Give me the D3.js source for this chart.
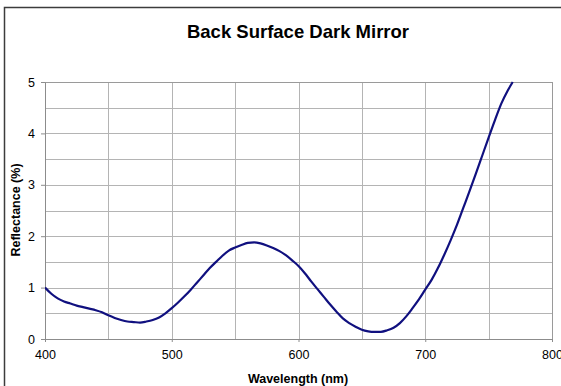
<!DOCTYPE html>
<meta charset="utf-8">
<style>
  body { margin: 0; background: #fff; }
  text { font-family: "Liberation Sans", Arial, sans-serif; fill: #000; }
  .grid line { stroke: #b4b4b4; stroke-width: 1px; }
  .axis path, .axis line { stroke: #8c8c8c; }
  .line { fill: none; stroke: #10107f; stroke-width: 2.2px; }
</style>
<body>
<script src="https://cdn.jsdelivr.net/npm/d3@7"></script>
<script>

  // wavelength (nm) vs reflectance (%)
  var wavelength = [400, 405, 410, 415, 420, 425, 430, 435, 440, 445, 450, 455, 460, 465, 470, 475,
    480, 485, 490, 495, 500, 505, 510, 515, 520, 525, 530, 535, 540, 545, 550, 555, 560, 565,
    570, 575, 580, 585, 590, 595, 600, 605, 610, 615, 620, 625, 630, 635, 640, 645, 650, 655,
    660, 665, 670, 675, 680, 685, 690, 695, 700, 705, 710, 715, 720, 725, 730, 735, 740, 745,
    750, 755, 760, 765, 769];
  var reflectance = [1.00, 0.88, 0.79, 0.73, 0.69, 0.65, 0.62, 0.59, 0.56, 0.52, 0.46, 0.41, 0.37, 0.34, 0.33, 0.32,
    0.34, 0.37, 0.42, 0.50, 0.60, 0.71, 0.83, 0.96, 1.10, 1.24, 1.38, 1.50, 1.62, 1.72, 1.78, 1.83, 1.87, 1.88,
    1.86, 1.82, 1.77, 1.71, 1.63, 1.53, 1.42, 1.28, 1.12, 0.97, 0.82, 0.67, 0.53, 0.40, 0.31, 0.24, 0.18, 0.15,
    0.14, 0.14, 0.17, 0.22, 0.31, 0.44, 0.60, 0.77, 0.96, 1.15, 1.38, 1.64, 1.92, 2.22, 2.55, 2.88, 3.22, 3.57,
    3.92, 4.26, 4.58, 4.83, 5.00];
  var xTicks = [400, 500, 600, 700, 800];
  var yTicks = [0, 1, 2, 3, 4, 5];

  var data = wavelength.map((w, i) => ({ w: w, r: reflectance[i] }));

  var W = 561, H = 386;
  var margin = { top: 82, right: 9, bottom: 47, left: 45 },
    width = W - margin.left - margin.right,
    height = H - margin.top - margin.bottom;

  var svg = d3.select("body").append("svg")
    .attr("width", W)
    .attr("height", H);

  // outer chart border
  svg.append("rect")
    .attr("x", 4.5).attr("y", 7.5)
    .attr("width", W).attr("height", H)
    .attr("fill", "none").attr("stroke", "#3c3c3c").attr("stroke-width", 1.5);

  svg.append("text")
    .attr("x", 298).attr("y", 38)
    .attr("text-anchor", "middle")
    .style("font-size", "18.5px").style("font-weight", "bold")
    .text("Back Surface Dark Mirror");

  var g = svg.append("g")
    .attr("transform", "translate(" + margin.left + "," + margin.top + ")");

  var x = d3.scaleLinear().domain([400, 800]).range([0, width]);
  var y = d3.scaleLinear().domain([0, 5]).range([height, 0]);

  // grid
  g.append("g").attr("class", "grid")
    .selectAll("line").data(d3.range(450, 800, 50)).enter().append("line")
    .attr("x1", d => Math.round(x(d)) + 0.5).attr("x2", d => Math.round(x(d)) + 0.5)
    .attr("y1", 0).attr("y2", height);
  g.append("g").attr("class", "grid")
    .selectAll("line").data(d3.range(0.5, 5, 0.5)).enter().append("line")
    .attr("x1", 0).attr("x2", width)
    .attr("y1", d => Math.round(y(d)) + 0.5).attr("y2", d => Math.round(y(d)) + 0.5);

  // plot frame
  g.append("rect")
    .attr("x", 0.5).attr("y", 0.5)
    .attr("width", width).attr("height", height)
    .attr("fill", "none").attr("stroke", "#9a9a9a");

  g.append("g").attr("class", "axis")
    .attr("transform", "translate(0," + height + ")")
    .call(d3.axisBottom(x).tickValues(xTicks).tickFormat(d3.format("d")).tickSize(3).tickSizeOuter(0).tickPadding(8))
    .selectAll("text").style("font-size", "12.5px");

  g.append("g").attr("class", "axis")
    .call(d3.axisLeft(y).tickValues(yTicks).tickFormat(d3.format("d")).tickSize(4).tickSizeOuter(0).tickPadding(6))
    .selectAll("text").style("font-size", "12.5px");

  g.selectAll(".axis text").attr("font-family", null).style("fill", "#000");

  g.append("clipPath").attr("id", "clip")
    .append("rect").attr("width", width).attr("height", height + 2).attr("y", -1);

  var valueline = d3.line()
    .x(d => x(d.w))
    .y(d => y(d.r))
    .curve(d3.curveMonotoneX);

  g.append("path")
    .datum(data)
    .attr("class", "line")
    .attr("clip-path", "url(#clip)")
    .attr("d", valueline);

  svg.append("text")
    .attr("x", 298).attr("y", 383)
    .attr("text-anchor", "middle")
    .style("font-size", "12.5px").style("font-weight", "bold")
    .text("Wavelength (nm)");

  svg.append("text")
    .attr("transform", "translate(20,210) rotate(-90)")
    .attr("text-anchor", "middle")
    .style("font-size", "12.5px").style("font-weight", "bold")
    .text("Reflectance (%)");
</script>
</body>
